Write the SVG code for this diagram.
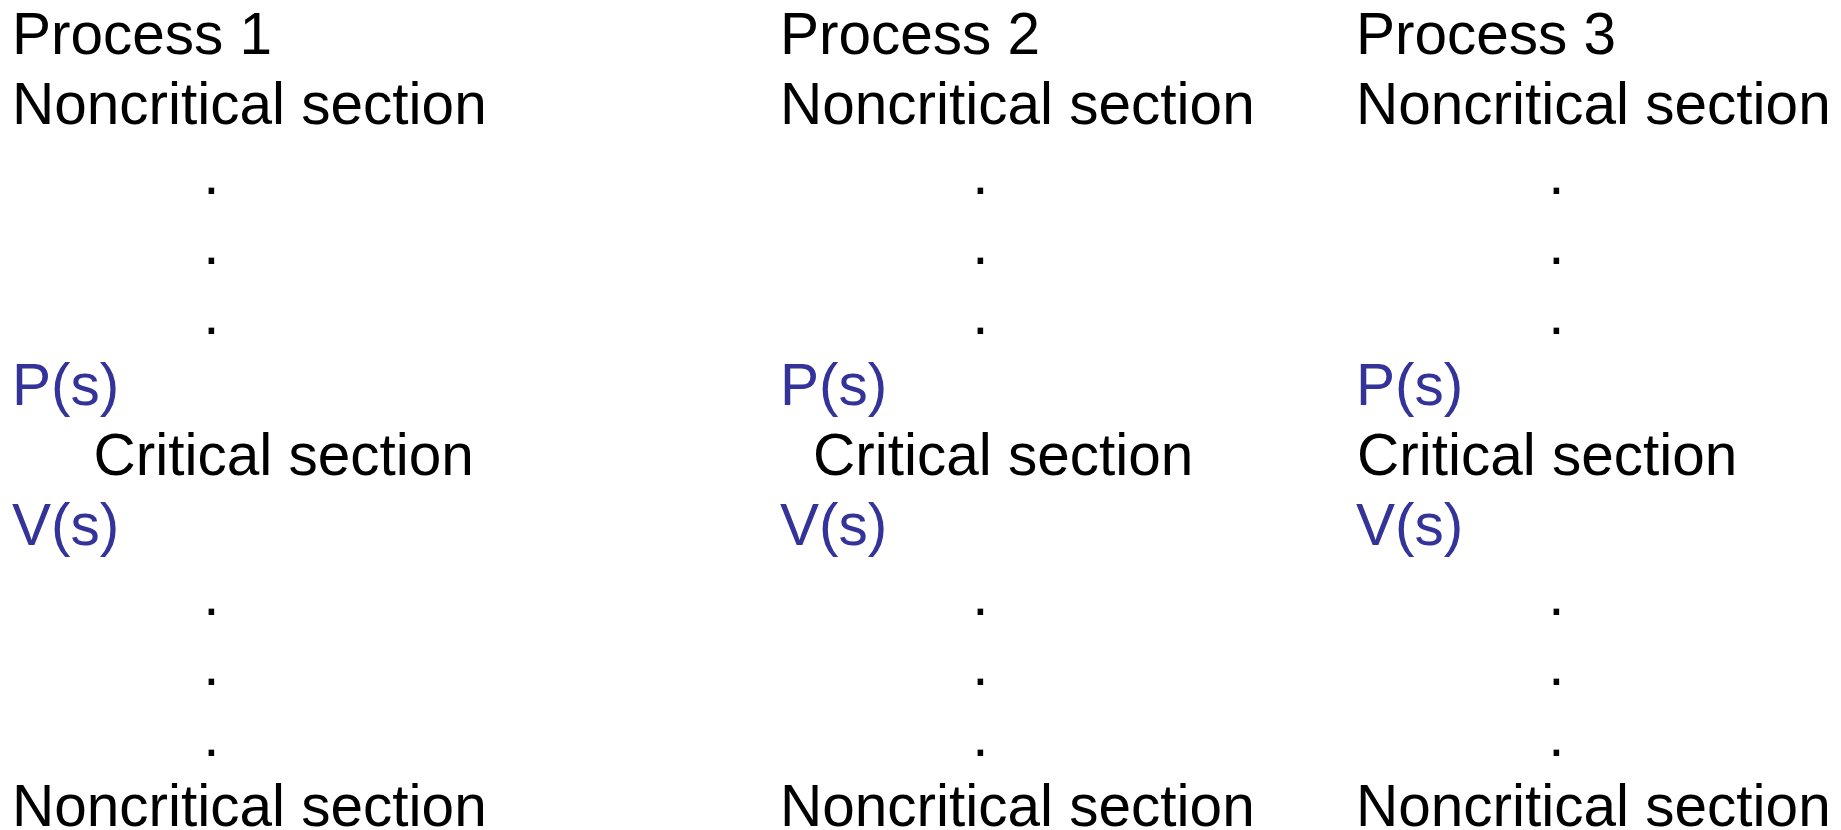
<svg xmlns="http://www.w3.org/2000/svg" width="1841" height="830" viewBox="0 0 1841 830">
<style>
text{font-family:"Liberation Sans",Arial,sans-serif;font-size:58.5px;fill:#000}
.b{fill:#333399}
</style>
<rect width="1841" height="830" fill="#fff"/>
<g id="process1">
<text x="12" y="53.5">Process 1</text>
<text x="12" y="123.7">Noncritical section</text>
<text x="203.2" y="193.9">.</text>
<text x="203.2" y="264.1">.</text>
<text x="203.2" y="334.3">.</text>
<text class="b" x="12" y="404.5">P(s)</text>
<text x="93.5" y="474.7">Critical section</text>
<text class="b" x="12" y="544.9">V(s)</text>
<text x="203.2" y="615.1">.</text>
<text x="203.2" y="685.3">.</text>
<text x="203.2" y="755.5">.</text>
<text x="12" y="825.7">Noncritical section</text>
</g>
<g id="process2">
<text x="780" y="53.5">Process 2</text>
<text x="780" y="123.7">Noncritical section</text>
<text x="972.3" y="193.9">.</text>
<text x="972.3" y="264.1">.</text>
<text x="972.3" y="334.3">.</text>
<text class="b" x="780" y="404.5">P(s)</text>
<text x="813" y="474.7">Critical section</text>
<text class="b" x="780" y="544.9">V(s)</text>
<text x="972.3" y="615.1">.</text>
<text x="972.3" y="685.3">.</text>
<text x="972.3" y="755.5">.</text>
<text x="780" y="825.7">Noncritical section</text>
</g>
<g id="process3">
<text x="1356" y="53.5">Process 3</text>
<text x="1356" y="123.7">Noncritical section</text>
<text x="1548.2" y="193.9">.</text>
<text x="1548.2" y="264.1">.</text>
<text x="1548.2" y="334.3">.</text>
<text class="b" x="1356" y="404.5">P(s)</text>
<text x="1357" y="474.7">Critical section</text>
<text class="b" x="1356" y="544.9">V(s)</text>
<text x="1548.2" y="615.1">.</text>
<text x="1548.2" y="685.3">.</text>
<text x="1548.2" y="755.5">.</text>
<text x="1356" y="825.7">Noncritical section</text>
</g>
</svg>
